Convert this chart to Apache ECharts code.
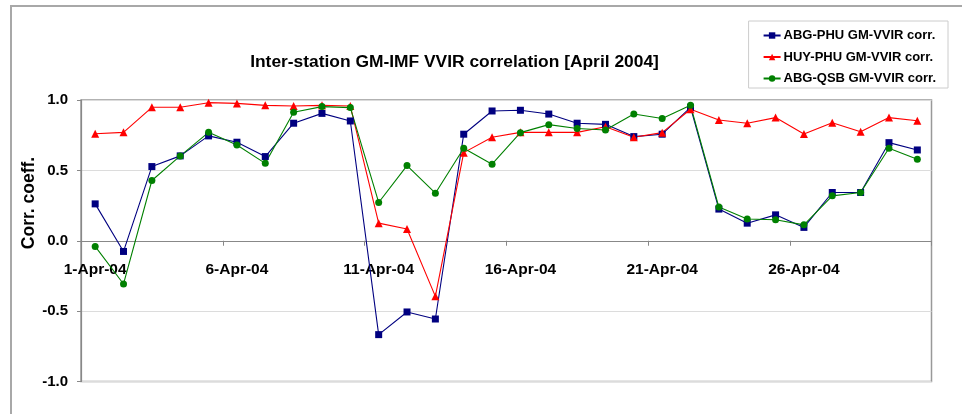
<!DOCTYPE html>
<html>
<head>
<meta charset="utf-8">
<script src="https://cdn.jsdelivr.net/npm/echarts@6/dist/echarts.min.js"></script>
<style>
html,body{margin:0;padding:0;background:#fff;}
#chart{width:962px;height:414px;}
</style>
</head>
<body>
<div id="chart"></div>
<script>
var categories = ['1-Apr-04','2-Apr-04','3-Apr-04','4-Apr-04','5-Apr-04','6-Apr-04','7-Apr-04','8-Apr-04','9-Apr-04','10-Apr-04',
  '11-Apr-04','12-Apr-04','13-Apr-04','14-Apr-04','15-Apr-04','16-Apr-04','17-Apr-04','18-Apr-04','19-Apr-04','20-Apr-04',
  '21-Apr-04','22-Apr-04','23-Apr-04','24-Apr-04','25-Apr-04','26-Apr-04','27-Apr-04','28-Apr-04','29-Apr-04','30-Apr-04'];
var abgPhu = [0.262,-0.076,0.527,0.603,0.745,0.700,0.598,0.835,0.905,0.851,
  -0.667,-0.506,-0.556,0.757,0.922,0.927,0.900,0.835,0.827,0.740,
  0.757,0.948,0.225,0.125,0.184,0.095,0.343,0.343,0.697,0.645];
var huyPhu = [0.760,0.770,0.948,0.948,0.981,0.976,0.962,0.957,0.962,0.957,
  0.125,0.083,-0.395,0.626,0.735,0.770,0.770,0.770,0.810,0.735,
  0.768,0.934,0.858,0.835,0.875,0.759,0.839,0.775,0.875,0.853];
var abgQsb = [-0.040,-0.307,0.428,0.603,0.770,0.680,0.550,0.913,0.953,0.946,
  0.272,0.534,0.338,0.657,0.544,0.768,0.825,0.797,0.787,0.900,
  0.868,0.962,0.239,0.154,0.149,0.113,0.319,0.343,0.657,0.579];
var seriesNames = ['ABG-PHU GM-VVIR corr.','HUY-PHU GM-VVIR corr.','ABG-QSB GM-VVIR corr.'];
var yTicks = [-1.0,-0.5,0.0,0.5,1.0];

var FONT = '"Liberation Sans", Arial, sans-serif';
var GRID_TOP = 100, GRID_BOTTOM = 32.5, H = 414;
var plotH = H - GRID_TOP - GRID_BOTTOM;
var zeroOffset = -plotH * (0 - yTicks[0]) / (yTicks[yTicks.length - 1] - yTicks[0]);

var chart = echarts.init(document.getElementById('chart'));
chart.setOption({
  animation: false,
  backgroundColor: '#ffffff',
  textStyle: {fontFamily: FONT},
  title: {
    text: 'Inter-station GM-IMF VVIR correlation [April 2004]',
    left: 449.5, top: 49, textAlign: 'center',
    textStyle: {fontFamily: FONT, fontSize: 17.4, fontWeight: 'bold', color: '#000'}
  },
  legend: {
    orient: 'vertical',
    right: 14, top: 21,
    padding: [8, 12, 3, 14],
    itemGap: 8.5,
    itemWidth: 17, itemHeight: 8,
    borderColor: '#cccccc', borderWidth: 1,
    backgroundColor: '#fff',
    textStyle: {fontFamily: FONT, fontSize: 13, fontWeight: 'bold', color: '#000', padding: [0,0,0,-2]},
    data: seriesNames
  },
  grid: {
    left: 81, right: 30.5, top: GRID_TOP, bottom: GRID_BOTTOM,
    show: true, borderColor: '#999999', borderWidth: 1.5, backgroundColor: 'transparent'
  },
  graphic: [
    {type: 'polyline', shape: {points: [[11, 414], [11, 6], [962, 6]]}, style: {stroke: '#a8a8a8', lineWidth: 2, fill: null}, silent: true},
    {type: 'text', x: 29.5, y: 203, rotation: Math.PI / 2,
      style: {text: 'Corr. coeff.', fontFamily: FONT, fontSize: 17.5, fontWeight: 'bold', fill: '#000', align: 'center', verticalAlign: 'middle'}}
  ],
  xAxis: {
    type: 'category',
    data: categories,
    boundaryGap: true,
    position: 'bottom',
    offset: zeroOffset,
    axisLine: {onZero: false, lineStyle: {color: '#888888', width: 1.2}},
    axisTick: {show: true, interval: 4, length: 5, lineStyle: {color: '#888888'}},
    axisLabel: {interval: 4, margin: 21, fontFamily: FONT, fontSize: 15.5, fontWeight: 'bold', color: '#000'},
    splitLine: {show: false}
  },
  yAxis: {
    type: 'value',
    min: yTicks[0], max: yTicks[yTicks.length - 1], interval: 0.5,
    axisLine: {show: true, lineStyle: {color: '#888888', width: 1.2}},
    axisTick: {show: true, length: 4, lineStyle: {color: '#888888'}},
    axisLabel: {margin: 13, fontFamily: FONT, fontSize: 15, fontWeight: 'bold', color: '#000',
      formatter: function (v) { return v.toFixed(1); }},
    splitLine: {show: true, lineStyle: {color: '#dcdcdc', width: 1.2}}
  },
  series: [
    {name: seriesNames[0], type: 'line', data: abgPhu, symbol: 'rect', symbolSize: 7,
      itemStyle: {color: '#000080'}, lineStyle: {color: '#000080', width: 1.1}},
    {name: seriesNames[1], type: 'line', data: huyPhu, symbol: 'triangle', symbolSize: 8,
      itemStyle: {color: '#ff0000'}, lineStyle: {color: '#ff0000', width: 1.1}},
    {name: seriesNames[2], type: 'line', data: abgQsb, symbol: 'circle', symbolSize: 7,
      itemStyle: {color: '#008000'}, lineStyle: {color: '#008000', width: 1.1}}
  ]
});
</script>
</body>
</html>
